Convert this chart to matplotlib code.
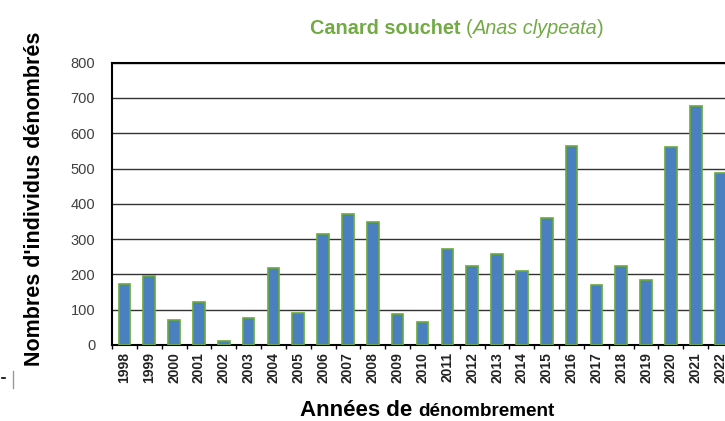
import numpy as np
import matplotlib
matplotlib.use('Agg')
from matplotlib import pyplot as plt
from matplotlib.lines import Line2D

years = [str(y) for y in range(1998, 2023)]
counts = [172, 196, 70, 123, 12, 77, 217, 92, 315, 371, 349, 88, 66,
          272, 224, 259, 210, 361, 564, 171, 224, 183, 560, 677, 488]
yticks = [0, 100, 200, 300, 400, 500, 600, 700, 800]

plt.rcParams['font.family'] = ['Liberation Sans', 'DejaVu Sans']

fig = plt.figure(figsize=(7.25, 4.21), dpi=100)
# plot area runs past the right edge, like the cropped original
ax = fig.add_axes([112 / 725, 76 / 421, 621 / 725, 282.3 / 421])

x = np.arange(len(years))
ax.bar(x, counts, width=0.47, color='#4a7fc0', edgecolor='#6aaa3a', linewidth=1.2, zorder=3)

ax.set_xlim(-0.5, len(years) - 0.5)
ax.set_ylim(0, 800)
ax.set_yticks(yticks)
ax.set_yticklabels([str(v) for v in yticks], color='#404040', fontsize=10.5)
ax.grid(axis='y', color='#333333', linewidth=1.0, zorder=0)

ax.set_xticks(x)
ax.set_xticklabels(years, rotation=90, fontsize=10, fontweight='bold', color='#222222')
ax.set_xticks(np.arange(len(years) + 1) - 0.5, minor=True)
ax.tick_params(axis='x', which='major', length=0, pad=5)
ax.tick_params(axis='x', which='minor', length=3, width=1, color='black', direction='out')
ax.tick_params(axis='y', length=0, pad=12)

ax.spines['right'].set_visible(False)
ax.spines['left'].set_linewidth(1.5)
ax.spines['top'].set_linewidth(1.5)
ax.spines['bottom'].set_linewidth(1.5)

ax.set_ylabel("Nombres d'individus dénombrés", fontsize=15.5, fontweight='bold')
ax.yaxis.set_label_coords(-(112 - 45) / 621, 0.518)

# title built from pieces: bold name, plain brackets, italic latin name
green = '#72ab45'
fig.canvas.draw()
renderer = fig.canvas.get_renderer()
pieces = [("Canard souchet ", {'fontweight': 'bold'}),
          ("(", {}),
          ("Anas clypeata", {'fontstyle': 'italic'}),
          (")", {})]
xpos = 310
for txt, kw in pieces:
    t = fig.text(xpos / 725, 1 - 28 / 421, txt, fontsize=14.3, color=green, va='center', ha='left', **kw)
    bb = t.get_window_extent(renderer)
    xpos += bb.width

# x axis label in two sizes
t1 = fig.text(300 / 725, 1 - 416 / 421, "Années de ", fontsize=16, fontweight='bold',
              va='baseline', ha='left')
bb = t1.get_window_extent(renderer)
fig.text((300 + bb.width) / 725, 1 - 416 / 421, "dénombrement", fontsize=13.6, fontweight='bold',
         va='baseline', ha='left')

# small marks at the left edge of the original scan
fig.add_artist(Line2D([2 / 725, 5 / 725], [1 - 378 / 421, 1 - 378 / 421], color='black', linewidth=1.2))
fig.add_artist(Line2D([13 / 725, 13 / 725], [1 - 371 / 421, 1 - 388 / 421], color='#999999', linewidth=1))

fig.savefig('out.png', dpi=100)
